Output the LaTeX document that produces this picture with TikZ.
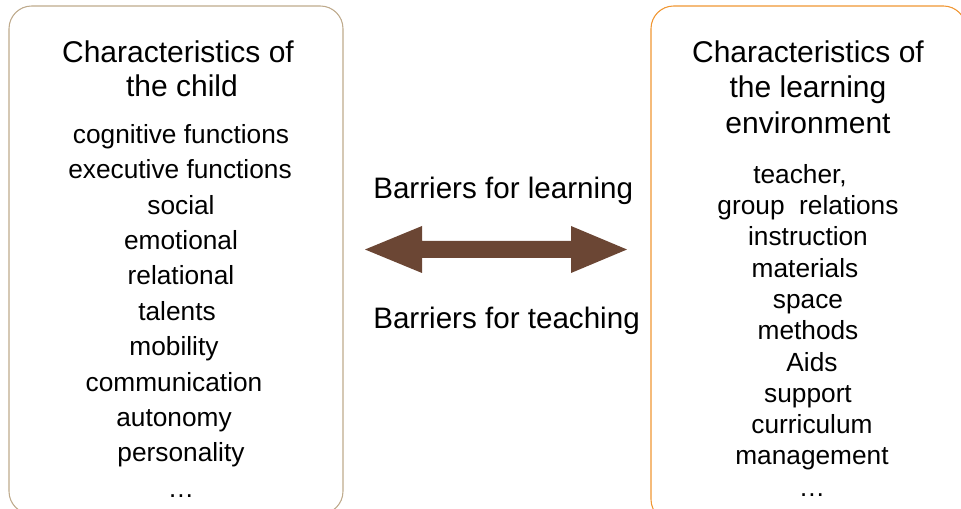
\documentclass[tikz,border=0pt]{standalone}
\usepackage{fontspec}
\setmainfont{Liberation Sans}
\usepackage{tikz}
\usetikzlibrary{positioning}
\definecolor{boxtan}{RGB}{190,170,140}
\definecolor{boxorange}{RGB}{240,150,50}
\definecolor{arrowbrown}{RGB}{107,70,52}
\tikzset{
  panel/.style={line width=0.8pt, rounded corners=17pt},
  title/.style={font=\fontsize{22.5}{26}\selectfont, inner sep=0pt, anchor=base},
  item/.style={font=\fontsize{19.7}{24}\selectfont, inner sep=0pt, anchor=base},
  barrier/.style={font=\fontsize{22.2}{26}\selectfont, inner sep=0pt, anchor=base west}
}

\begin{document}
\begin{tikzpicture}[x=0.75pt,y=-0.75pt]
\useasboundingbox (0,0) rectangle (961,509);
\begin{scope}
\clip (0,0) rectangle (961,509);
% the two panels
\draw[panel, boxtan] (9,6) rectangle (343,514);
\draw[panel, boxorange] (651,6) rectangle (966,522);
\end{scope}
% child
\node[title] (child1) at (178,63) {Characteristics of};
\node[title] (child2) at (182,97) {the child};
\foreach \x/\t [count=\i] in {181/cognitive functions,180/executive functions,181/social,181/emotional,181/relational,177/talents,174/mobility,174/communication,174/autonomy,181/personality,181/\dots}
  \node[item] (c\i) at (\x,143.3+35.4*\i-35.4) {\t};
% environment
\node[title] (env1) at (808,63) {Characteristics of};
\node[title] (env2) at (808,98) {the learning};
\node[title] (env3) at (808,133.3) {environment};
\foreach \x/\t [count=\i] in {800/{teacher,},808/{group\ \ relations},808/instruction,805/materials,808/space,808/methods,812/Aids,808/support,812/curriculum,812/management,812/\dots}
  \node[item] (e\i) at (\x,183.3+31.3*\i-31.3) {\t};
% barriers and arrow
\node[barrier] (learn) at (373,198.3) {Barriers for learning};
\node[barrier] (teach) at (373,328.3) {Barriers for teaching};
\coordinate (mid) at (496,249.5);
\fill[arrowbrown, shift={(mid)}] (-131,0) -- (-74,-23.5) -- (-74,-8.5) -- (75,-8.5) -- (75,-23.5)
  -- (131,0) -- (75,23.5) -- (75,8.5) -- (-74,8.5) -- (-74,23.5) -- cycle;
\end{tikzpicture}
\end{document}
